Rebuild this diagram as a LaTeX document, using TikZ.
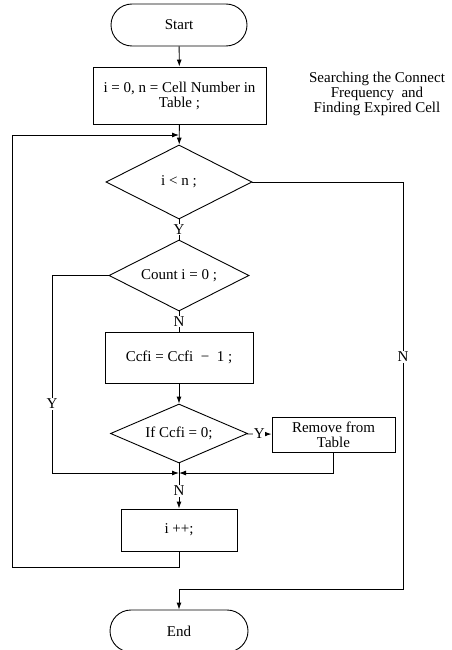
\documentclass[tikz,border=0pt]{standalone}
\usepackage{fontspec}
\setmainfont{Liberation Serif}
\usetikzlibrary{shapes.geometric,shapes.misc,arrows.meta}
\begin{document}
\begin{tikzpicture}[x=1pt,y=-1pt,
  every node/.style={font=\fontsize{15}{15}\selectfont},
  line/.style={draw=black,line width=0.9pt},
  arr/.style={line,-{Latex[length=7pt,width=5pt]}},
  term/.style={rounded rectangle,draw,line width=0.9pt,inner sep=0pt},
  proc/.style={rectangle,draw,line width=0.9pt,inner sep=0pt,align=center},
  dec/.style={diamond,draw,line width=0.9pt,inner sep=0pt},
  lab/.style={fill=white,inner sep=1pt}]
\useasboundingbox (0,0) rectangle (451,650);
\node[term,minimum width=136pt,minimum height=42pt] (start) at (179,25) {Start};
\node[proc,minimum width=173pt,minimum height=57pt] (init) at (179.5,95.5) {i = 0, n = Cell Number in\\Table ;};
\node[dec,minimum width=146pt,minimum height=74pt] (d1) at (179,182) {\makebox[0pt]{i {<} n ;}};
\node[dec,minimum width=140pt,minimum height=71pt] (d2) at (179,275.5) {\makebox[0pt]{Count i = 0 ;}};
\node[proc,minimum width=148pt,minimum height=51pt] (b2) at (179,357.5) {Ccfi = Ccfi \ −\ \ 1 ;};
\node[dec,minimum width=137pt,minimum height=59pt] (d3) at (179,433.5) {\makebox[0pt]{If Ccfi = 0;}};
\node[proc,minimum width=123pt,minimum height=35pt] (rem) at (333.5,434.5) {Remove from\\Table};
\node[proc,minimum width=116pt,minimum height=42pt] (b3) at (179,530) {i ++;};
\node[term,minimum width=138pt,minimum height=42pt] (end) at (179,631) {End};
\node[align=center] (note) at (377,94) {Searching the Connect\\Frequency\ \ and\\Finding Expired Cell};

\coordinate (loop) at (179,135);
\coordinate (merge) at (179,473);
\coordinate (ly) at (52,275.5);
\coordinate (lyb) at (52,473);
\coordinate (rb) at (333.5,473);
\coordinate (bl) at (179,567);
\coordinate (bll) at (12,567);
\coordinate (tll) at (12,135);
\coordinate (rt) at (403,182);
\coordinate (rbt) at (403,589);
\coordinate (eb) at (179,589);

\draw[arr] (start) -- (init);
\draw[arr] (init) -- (d1);
\draw[line] (d1) -- node[lab,pos=0.5] {Y} (d2);
\draw[line] (d2) -- node[lab,pos=0.5] {N} (b2);
\draw[arr] (b2) -- (d3);
\draw[arr] (d3) -- node[lab,inner sep=0.5pt] {Y} (rem);
\draw[line] (d3) -- (merge);
\draw[arr] (merge) -- node[lab] {N} (b3);
\draw[arr] (d2.west) -- (ly) -- node[lab,pos=0.65] {Y} (lyb) -- (merge);
\draw[arr] (rem) -- (rb) -- (merge);
\draw[arr] (b3) -- (bl) -- (bll) -- (tll) -- (loop);
\draw[arr] (d1.east) -- (rt) -- node[lab,pos=0.43] {N} (rbt) -- (eb) -- (end);
\end{tikzpicture}
\end{document}
